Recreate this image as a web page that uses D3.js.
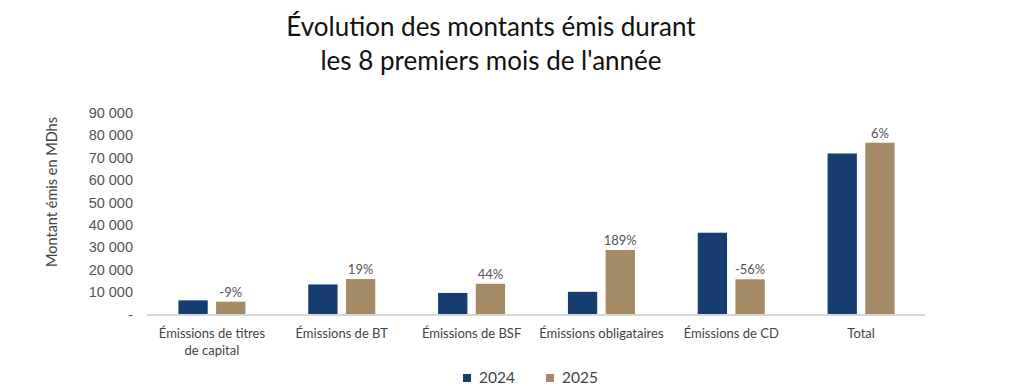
<!DOCTYPE html>
<html><head><meta charset="utf-8">
<script src="https://cdn.jsdelivr.net/npm/d3@7"></script>
<style>
html,body{margin:0;padding:0;background:#fff;}
svg{display:block;font-family:Lato, "Noto Sans", sans-serif;}
</style></head>
<body>
<svg id="chart" width="1024" height="388"></svg>
<script>
const categories = [["Émissions de titres","de capital"],["Émissions de BT"],["Émissions de BSF"],["Émissions obligataires"],["Émissions de CD"],["Total"]];
const series = ["2024","2025"];
const values2024 = [6100, 13200, 9400, 9900, 36300, 71700];
const values2025 = [5500, 15600, 13500, 28600, 15500, 76500];
const changeLabels = ["-9%","19%","44%","189%","-56%","6%"];
const yTicks = [0,10000,20000,30000,40000,50000,60000,70000,80000,90000];
const colors = {"2024":"#173d70","2025":"#a48a66"};

const svg = d3.select("#chart");
const keys = categories.map(c => c.join(" "));
const x0 = d3.scaleBand().domain(keys).range([147, 926]).padding(0);
const grp = 67;
const x1 = d3.scaleBand().domain(series).range([x0.bandwidth()/2 - grp/2, x0.bandwidth()/2 + grp/2]).paddingInner(0.223);
const y = d3.scaleLinear().domain([0, 90000]).range([314, 112.5]);

// title
const title = svg.append("text").attr("text-anchor","middle").attr("fill","#111")
  .style("font-size","26px");
title.append("tspan").attr("x",491).attr("y",36).text("Évolution des montants émis durant");
title.append("tspan").attr("x",491).attr("y",70).text("les 8 premiers mois de l'année");

// y axis
const fmt = v => v === 0 ? "-" : d3.format(",")(v).replace(/,/g, " ");
const yAxis = svg.append("g").attr("transform","translate(133,0)")
  .call(d3.axisLeft(y).tickValues(yTicks).tickSize(0).tickPadding(0).tickFormat(fmt));
yAxis.select(".domain").remove();
yAxis.selectAll("text").attr("fill","#555").style("font-size","14.5px").attr("dy","0.35em");

svg.append("text").attr("transform","translate(57,192) rotate(-90)")
  .attr("text-anchor","middle").attr("fill","#444").style("font-size","14.5px")
  .text("Montant émis en MDhs");

// x baseline
svg.append("line").attr("x1",147).attr("x2",925).attr("y1",y(0)+1).attr("y2",y(0)+1)
  .attr("stroke","#d6d6d6").attr("stroke-width",2);

// bars
const data = keys.map((k,i) => ({key:k, lines:categories[i], v:{"2024":values2024[i],"2025":values2025[i]}, change:changeLabels[i]}));
const g = svg.selectAll("g.cat").data(data).enter().append("g").attr("class","cat")
  .attr("transform", d => `translate(${x0(d.key)},0)`);
g.selectAll("rect").data(d => series.map(s => ({s, v:d.v[s]}))).enter().append("rect")
  .attr("x", d => x1(d.s)).attr("width", x1.bandwidth())
  .attr("y", d => y(d.v)).attr("height", d => y(0) - y(d.v))
  .attr("fill", d => colors[d.s]);
g.append("text").attr("x", x1("2025") + x1.bandwidth()/2).attr("y", d => y(d.v["2025"]) - 5)
  .attr("text-anchor","middle").attr("fill","#555").style("font-size","13px").text(d => d.change);

// x labels
const xl = g.append("text").attr("text-anchor","middle").attr("fill","#444").style("font-size","13px");
xl.selectAll("tspan").data(d => d.lines).enter().append("tspan")
  .attr("x", x0.bandwidth()/2).attr("y", (d,i) => 338 + i*17).text(d => d);

// legend
const leg = svg.append("g");
const legX = [463, 546];
series.forEach((s,i) => {
  leg.append("rect").attr("x", legX[i]).attr("y",374).attr("width",8).attr("height",8).attr("fill",colors[s]);
  leg.append("text").attr("x", legX[i]+16).attr("y",383).attr("fill","#444").style("font-size","15.5px").text(s);
});
</script>
</body></html>
